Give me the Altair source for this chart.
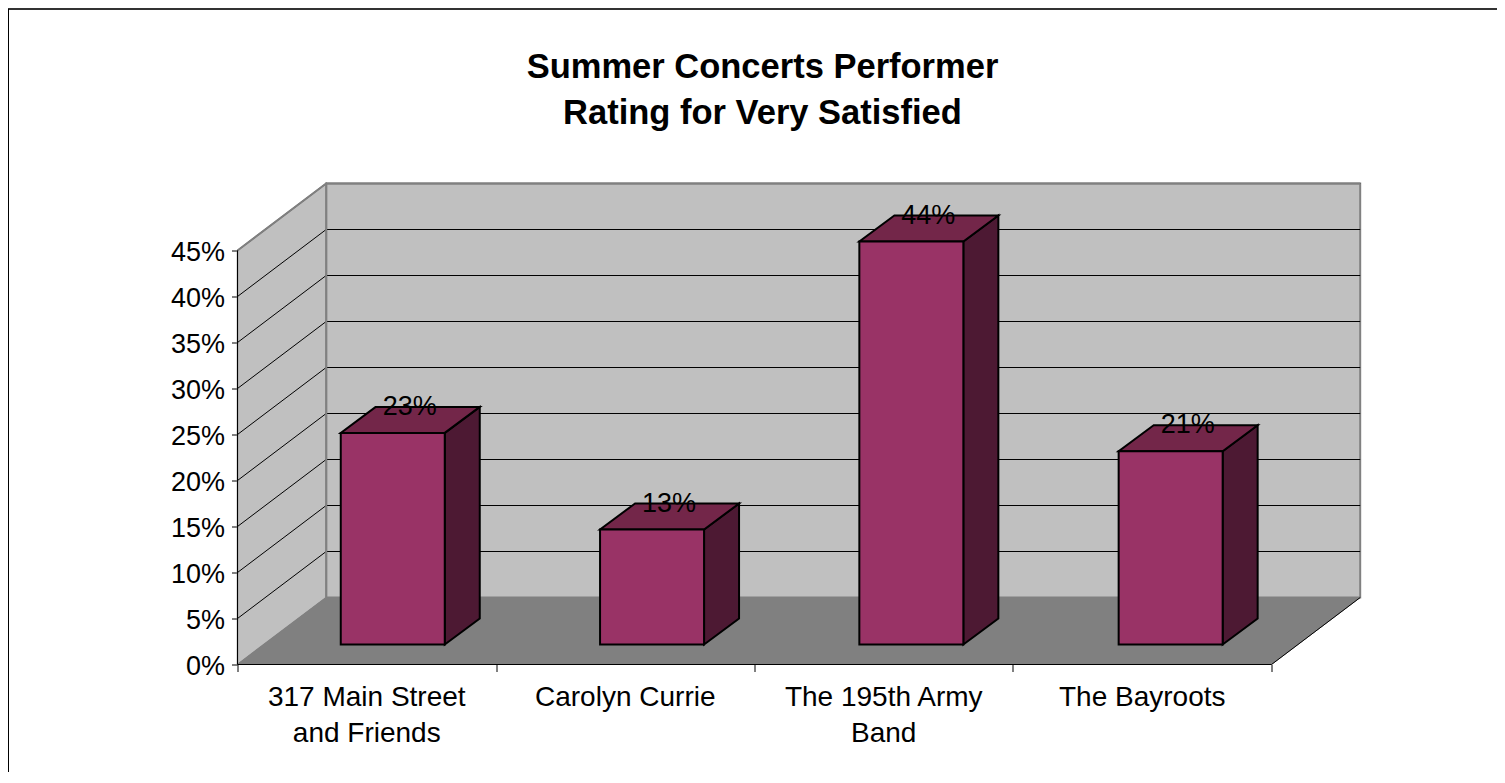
import altair as alt
import pandas as pd

categories = ["317 Main Street\nand Friends", "Carolyn Currie", "The 195th Army\nBand", "The Bayroots"]
values = [23.0, 12.5, 43.8, 21.0]
value_text = ["23%", "13%", "44%", "21%"]
y_ticks = [0, 5, 10, 15, 20, 25, 30, 35, 40, 45]
x_ticks = [0, 1, 2, 3, 4]
title_text = "Summer Concerts Performer\nRating for Very Satisfied"

W, H = 1124, 482
PX_X, PX_Y = 258.5, 9.2          # pixels per category / per percent
WALL_DX, WALL_DY = 88.7 / PX_X, 67 / PX_Y
BASE_DX, BASE_DY = 26 / PX_X, 20 / PX_Y
BAR_W = 104 / PX_X
BAR_STEP = 259.3 / PX_X
BAR_DX, BAR_DY = 35 / PX_X, 26 / PX_Y
FONT = "Liberation Sans"

xs = alt.Scale(domain=[0, W / PX_X], nice=False, zero=False)
ys = alt.Scale(domain=[0, H / PX_Y], nice=False, zero=False)
x_axis = alt.Axis(values=x_ticks, labels=False, domain=False, grid=False, ticks=True, tickSize=7,
                  tickColor="#000", title=None, orient="bottom")
y_axis = alt.Axis(values=y_ticks, labelExpr="datum.value + '%'", domain=False, grid=False, tickSize=6,
                  tickColor="#000", labelFont=FONT, labelFontSize=27, labelColor="#000", labelPadding=7,
                  labelOffset=2, title=None)
X = lambda f="x": alt.X(f"{f}:Q", scale=xs, axis=x_axis)
Y = lambda f="y": alt.Y(f"{f}:Q", scale=ys, axis=y_axis)
X2 = lambda f: alt.X2(f"{f}:Q")
Y2 = lambda f: alt.Y2(f"{f}:Q")
n = len(categories)

# walls and floor
back = pd.DataFrame([{"x": WALL_DX, "x2": n + WALL_DX, "y": WALL_DY, "y2": 45 + WALL_DY}])
back_wall = alt.Chart(back).mark_rect(fill="#c0c0c0", stroke="#808080", strokeWidth=2).encode(
    x=X(), x2=X2("x2"), y=Y(), y2=Y2("y2"))

side = pd.DataFrame([
    {"x": 0, "lo": 0, "hi": 45},
    {"x": WALL_DX, "lo": WALL_DY, "hi": 45 + WALL_DY},
])
left_wall = alt.Chart(side).mark_area(fill="#c0c0c0", stroke="#808080", strokeWidth=1.5).encode(
    x=X(), y=Y("lo"), y2=Y2("hi"))

floor = pd.DataFrame([
    {"y": 0, "x": 0, "x2": n},
    {"y": WALL_DY, "x": WALL_DX, "x2": n + WALL_DX},
])
floor_area = alt.Chart(floor).mark_area(orient="horizontal", fill="#808080", stroke="#808080", strokeWidth=1).encode(
    y=Y(), x=X(), x2=X2("x2"))

# grid lines: bent line across left wall and back wall
grid_rows = []
for t in y_ticks[1:]:
    grid_rows += [
        {"t": t, "o": 0, "x": 0, "y": t},
        {"t": t, "o": 1, "x": WALL_DX, "y": t + WALL_DY},
        {"t": t, "o": 2, "x": n + WALL_DX, "y": t + WALL_DY},
    ]
grid = alt.Chart(pd.DataFrame(grid_rows)).mark_line(color="#000", strokeWidth=1).encode(
    x=X(), y=Y(), detail="t:N", order="o:Q")
top_edge = alt.Chart(pd.DataFrame([
    {"x": 0, "y": 45, "o": 0}, {"x": WALL_DX, "y": 45 + WALL_DY, "o": 1}, {"x": n + WALL_DX, "y": 45 + WALL_DY, "o": 2},
])).mark_line(color="#808080", strokeWidth=2).encode(x=X(), y=Y(), order="o:Q")
back_edge = alt.Chart(pd.DataFrame([
    {"x": WALL_DX, "y": WALL_DY}, {"x": WALL_DX, "y": 45 + WALL_DY},
])).mark_line(color="#808080", strokeWidth=2).encode(x=X(), y=Y())

# axis lines
axis_y = alt.Chart(pd.DataFrame([{"x": 0, "y": 0}, {"x": 0, "y": 45}])).mark_line(color="#000", strokeWidth=1).encode(x=X(), y=Y())
axis_x = alt.Chart(pd.DataFrame([
    {"x": 0, "y": 0, "o": 0}, {"x": n, "y": 0, "o": 1}, {"x": n + WALL_DX, "y": WALL_DY, "o": 2},
])).mark_line(color="#000", strokeWidth=1).encode(x=X(), y=Y(), order="o:Q")

# bars
front_rows, side_rows, top_rows, label_rows = [], [], [], []
for i, (c, v, vt) in enumerate(zip(categories, values, value_text)):
    xl = i * BAR_STEP + BASE_DX + (1 - BAR_W) / 2
    xr = xl + BAR_W
    top = BASE_DY + v
    front_rows.append({"x": xl, "x2": xr, "y": BASE_DY, "y2": top})
    side_rows += [
        {"i": i, "x": xr, "lo": BASE_DY, "hi": top},
        {"i": i, "x": xr + BAR_DX, "lo": BASE_DY + BAR_DY, "hi": top + BAR_DY},
    ]
    top_rows += [
        {"i": i, "y": top, "x": xl, "x2": xr},
        {"i": i, "y": top + BAR_DY, "x": xl + BAR_DX, "x2": xr + BAR_DX},
    ]
    label_rows.append({"x": (xl + xr + BAR_DX) / 2, "y": top + BAR_DY, "v": vt, "c": c, "cx": i + 0.5})

bar_style = dict(stroke="#000", strokeWidth=2)
bars_side = alt.Chart(pd.DataFrame(side_rows)).mark_area(fill="#4d1933", **bar_style).encode(
    x=X(), y=Y("lo"), y2=Y2("hi"), detail="i:N")
bars_top = alt.Chart(pd.DataFrame(top_rows)).mark_area(orient="horizontal", fill="#732649", **bar_style).encode(
    y=Y(), x=X(), x2=X2("x2"), detail="i:N")
bars_front = alt.Chart(pd.DataFrame(front_rows)).mark_rect(fill="#993366", **bar_style).encode(
    x=X(), x2=X2("x2"), y=Y(), y2=Y2("y2"))

labels_df = pd.DataFrame(label_rows)
value_labels = alt.Chart(labels_df).mark_text(font=FONT, fontSize=27, color="#000", baseline="middle", dx=-0.5).encode(
    x=X(), y=Y(), text="v:N")
cat_labels = alt.Chart(labels_df.assign(y0=0)).mark_text(
    font=FONT, fontSize=28, color="#000", baseline="top", lineBreak="\n", lineHeight=36.5, dy=19
).encode(x=X("cx"), y=Y("y0"), text="c:N")

title_mark = alt.Chart(pd.DataFrame([{"t": title_text}])).mark_text(
    font=FONT, fontSize=34.5, fontWeight="bold", color="#000", baseline="alphabetic", align="center",
    lineBreak="\n", lineHeight=46
).encode(x=alt.value(525), y=alt.value(-105), text="t:N")

# chart frame
frame_top = alt.Chart(pd.DataFrame([{"a": 1}])).mark_rule(color="#333", strokeWidth=2).encode(
    x=alt.value(-229.5), x2=alt.value(W + 136), y=alt.value(-173.5))
frame_left = alt.Chart(pd.DataFrame([{"a": 1}])).mark_rule(color="#000", strokeWidth=2).encode(
    x=alt.value(-229.5), y=alt.value(-173.5), y2=alt.value(H + 108))

chart = alt.layer(
    back_wall, left_wall, floor_area, grid, top_edge, back_edge, axis_y, axis_x,
    bars_side, bars_top, bars_front, value_labels, cat_labels, title_mark, frame_top, frame_left,
).properties(
    width=W, height=H,
    autosize=alt.AutoSizeParams(type="none"),
    padding={"left": 229.5, "top": 174.5, "right": 135.5, "bottom": 107.5},
    background="white",
).configure_view(stroke=None)

chart.save("out.html", embed_options={"renderer": "svg", "actions": False})
